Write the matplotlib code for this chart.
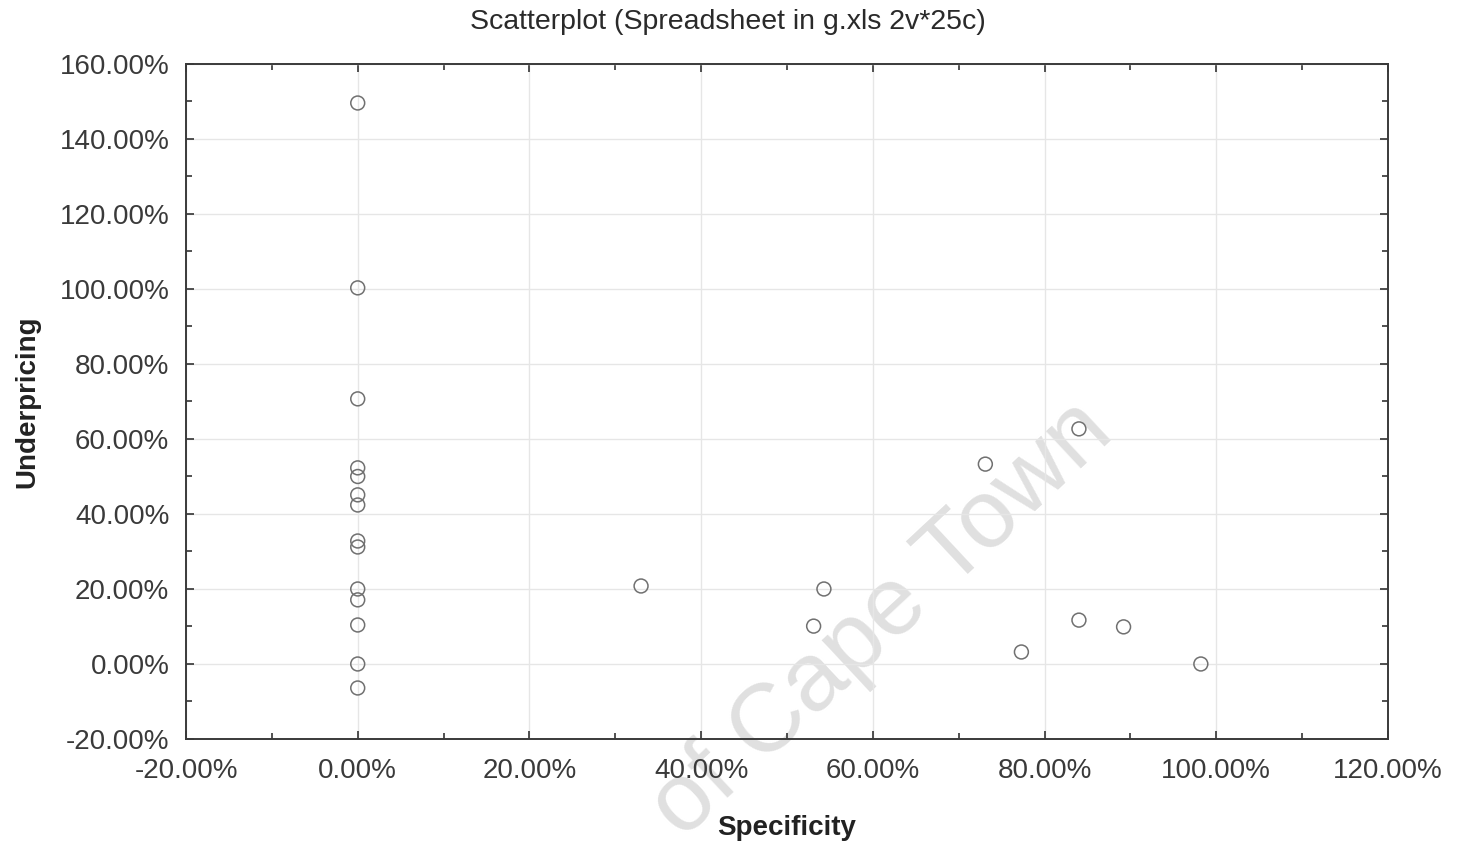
import matplotlib
matplotlib.use("Agg")
import matplotlib.pyplot as plt
from matplotlib.ticker import MultipleLocator, FuncFormatter

plt.rcParams['font.family'] = ['Liberation Sans', 'DejaVu Sans']

# Specificity (x) and underpricing (y), both in percent
specificity = [0, 0, 0, 0, 0, 0, 0, 0, 0, 0, 0, 0, 0, 0,
               33.0, 54.3, 53.1, 73.1, 84.0, 77.3, 84.0, 89.2, 98.2]
underpricing = [149.6, 100.3, 70.7, 52.3, 50.0, 45.1, 42.4, 32.8, 31.2,
                20.0, 17.1, 10.4, 0.0, -6.4,
                20.8, 20.0, 10.1, 53.3, 62.7, 3.2, 11.7, 9.9, 0.0]

x_ticks = [-20, 0, 20, 40, 60, 80, 100, 120]
y_ticks = [-20, 0, 20, 40, 60, 80, 100, 120, 140, 160]

fig = plt.figure(figsize=(14.6, 8.41), dpi=100)
ax = fig.add_axes([0.1274, 0.1213, 0.8233, 0.8026])
ax.patch.set_alpha(0)

ax.scatter(specificity, underpricing, s=100, facecolors='none',
           edgecolors='#707070', linewidths=1.1, zorder=3)

ax.set_xlim(-20, 120)
ax.set_ylim(-20, 160)
ax.set_xticks(x_ticks)
ax.set_yticks(y_ticks)
ax.xaxis.set_minor_locator(MultipleLocator(10))
ax.yaxis.set_minor_locator(MultipleLocator(10))
pct = FuncFormatter(lambda v, _: f"{v:.2f}%")
ax.xaxis.set_major_formatter(pct)
ax.yaxis.set_major_formatter(pct)

ax.grid(True, which='major', color='#e6e6e6', linewidth=1.0, zorder=0)
ax.tick_params(which='both', direction='in', top=True, right=True,
               color='#333333', width=1.2)
ax.tick_params(which='major', length=6, labelsize=20, labelcolor='#3a3a3a')
ax.tick_params(which='minor', length=4)
ax.tick_params(axis='x', pad=14)
ax.tick_params(axis='y', pad=12)

for sp in ax.spines.values():
    sp.set_color('#3a3a3a')
    sp.set_linewidth(1.4)

fig.text(728 / 1460, 1 - 22 / 841, "Scatterplot (Spreadsheet in g.xls 2v*25c)",
         fontsize=20.5, color='#2a2a2a', ha='center', va='center')
ax.set_xlabel("Specificity", fontsize=20, fontweight='bold', labelpad=22,
              color='#222222')
ax.set_ylabel("Underpricing", fontsize=20, fontweight='bold', labelpad=14,
              color='#222222')

# faint watermark, sits behind the axes content
fig.text(1116 / 1460, 1 - 436 / 841, "of Cape Town",
         fontsize=70, color='#e0e0e0', rotation=43, rotation_mode='anchor',
         ha='right', va='baseline', zorder=-1)

fig.savefig("out.png", dpi=100, facecolor='white')
